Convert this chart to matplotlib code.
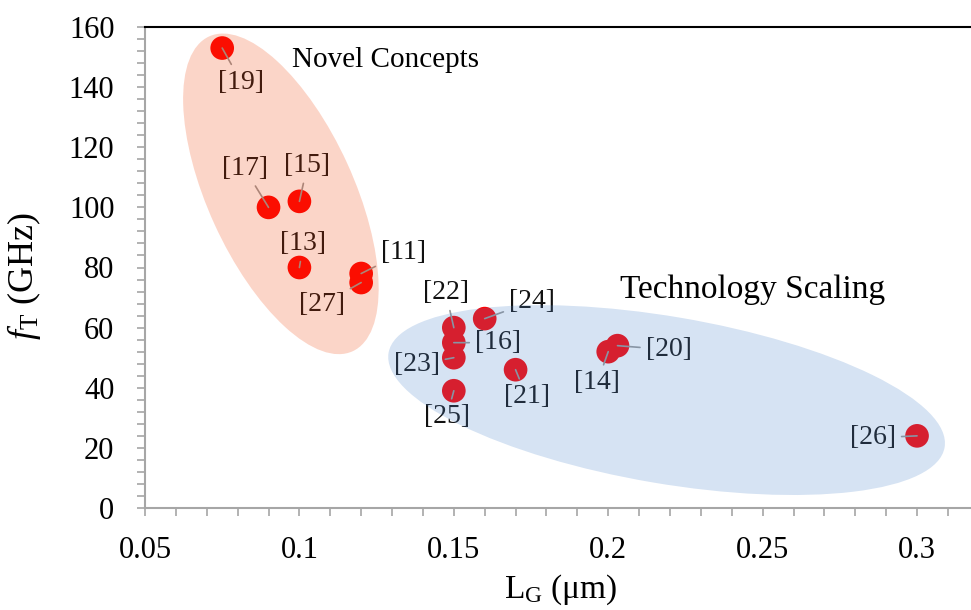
#!/usr/bin/env python3
import numpy as np
import matplotlib as mpl
mpl.use('Agg')
import matplotlib.pyplot as plt
from matplotlib.patches import Ellipse
from matplotlib.ticker import MultipleLocator
import matplotlib.transforms as mtransforms

# ========================================================================
# Data
# ========================================================================
refs = ['[19]', '[17]', '[15]', '[13]', '[11]', '[27]', '[22]', '[16]',
        '[23]', '[25]', '[24]', '[21]', '[14]', '[20]', '[26]']
lg = [0.075, 0.09, 0.10, 0.10, 0.12, 0.12, 0.15, 0.15,
      0.15, 0.15, 0.16, 0.17, 0.20, 0.203, 0.30]
ft = [153, 100, 102, 80, 78, 75, 60, 55,
      50, 39, 63, 46, 52, 54, 24]

# label offsets (pixels, from the point)
offs = [(19, -34), (-24, 39), (8, 36), (4, 24), (42, 21), (-39, -22),
        (-8, 35), (44, 0), (-37, -7), (-7, -26), (47, 17), (11, -27),
        (-11, -31), (51, -4), (-44, -2)]

plt.rcParams['font.family'] = ['Liberation Serif', 'DejaVu Serif']
plt.rcParams['mathtext.fontset'] = 'custom'
plt.rcParams['mathtext.rm'] = 'Liberation Serif'
plt.rcParams['mathtext.it'] = 'Liberation Serif:italic'

gray = '#A6A6A6'

fig = plt.figure(figsize=(9.71, 6.10), dpi=100)
ax = fig.add_axes([145 / 971, 102 / 610, 833.8 / 971, 481 / 610])

ax.scatter(lg, ft, s=290, color='#FF0000', edgecolors='none', zorder=3)

for r, x, y, (dx, dy) in zip(refs, lg, ft, offs):
    ax.annotate(r, xy=(x, y), xytext=(dx, dy), textcoords='offset pixels',
                ha='center', va='center', fontsize=20, color='#111111',
                zorder=4,
                arrowprops=dict(arrowstyle='-', color='#999999', lw=1.2,
                                shrinkA=2, shrinkB=0))

# shaded groups, sizes in pixels around a data centre
def group(cx, cy, w, h, ang, col, alpha):
    tr = mtransforms.Affine2D() + mtransforms.ScaledTranslation(
        cx, cy, ax.transData)
    e = Ellipse((0, 0), w * 72 / 100, h * 72 / 100, angle=ang,
                facecolor=col, edgecolor='none', alpha=alpha, zorder=5,
                transform=mtransforms.Affine2D().scale(100 / 72) + tr)
    ax.add_patch(e)

group(0.0940, 104.5, 346, 146, -65.5, (241 / 255, 64 / 255, 5 / 255), 0.22)
group(0.2189, 35.9, 564, 167, -9.65, (81 / 255, 136 / 255, 204 / 255), 0.235)

ax.text(0.0976, 149, 'Novel Concepts', fontsize=21, ha='left',
        va='center', zorder=6)
ax.text(0.2466, 72.5, 'Technology Scaling', fontsize=24, ha='center',
        va='center', zorder=6)

ax.set_xlim(0.05, 0.32)
ax.set_ylim(0, 160)
ax.xaxis.set_major_locator(MultipleLocator(0.05))
ax.xaxis.set_minor_locator(MultipleLocator(0.01))
ax.yaxis.set_major_locator(MultipleLocator(20))
ax.yaxis.set_minor_locator(MultipleLocator(4))
ax.set_xticks(np.arange(0.05, 0.31, 0.05))
ax.set_xticklabels(['0.05', '0.1', '0.15', '0.2', '0.25', '0.3'])

ax.tick_params(which='both', direction='out', color=gray, width=1.2,
               length=6, labelsize=22)
ax.tick_params(axis='y', which='major', pad=16)
ax.tick_params(axis='x', which='major', pad=14)

for s in ['left', 'bottom']:
    ax.spines[s].set_color(gray)
    ax.spines[s].set_linewidth(1.5)
ax.spines['top'].set_color('black')
ax.spines['top'].set_linewidth(1.5)
ax.spines['right'].set_visible(False)

ax.set_xlabel(r'L$_{\mathrm{G}}$ ($\mathrm{\mu}$m)', fontsize=24)
ax.set_ylabel(r'$f_{\mathrm{T}}$ (GHz)', fontsize=26)
ax.xaxis.set_label_coords(0.499, -0.135)
ax.yaxis.set_label_coords(-0.122, 0.482)

plt.savefig('out.png', dpi=100)
